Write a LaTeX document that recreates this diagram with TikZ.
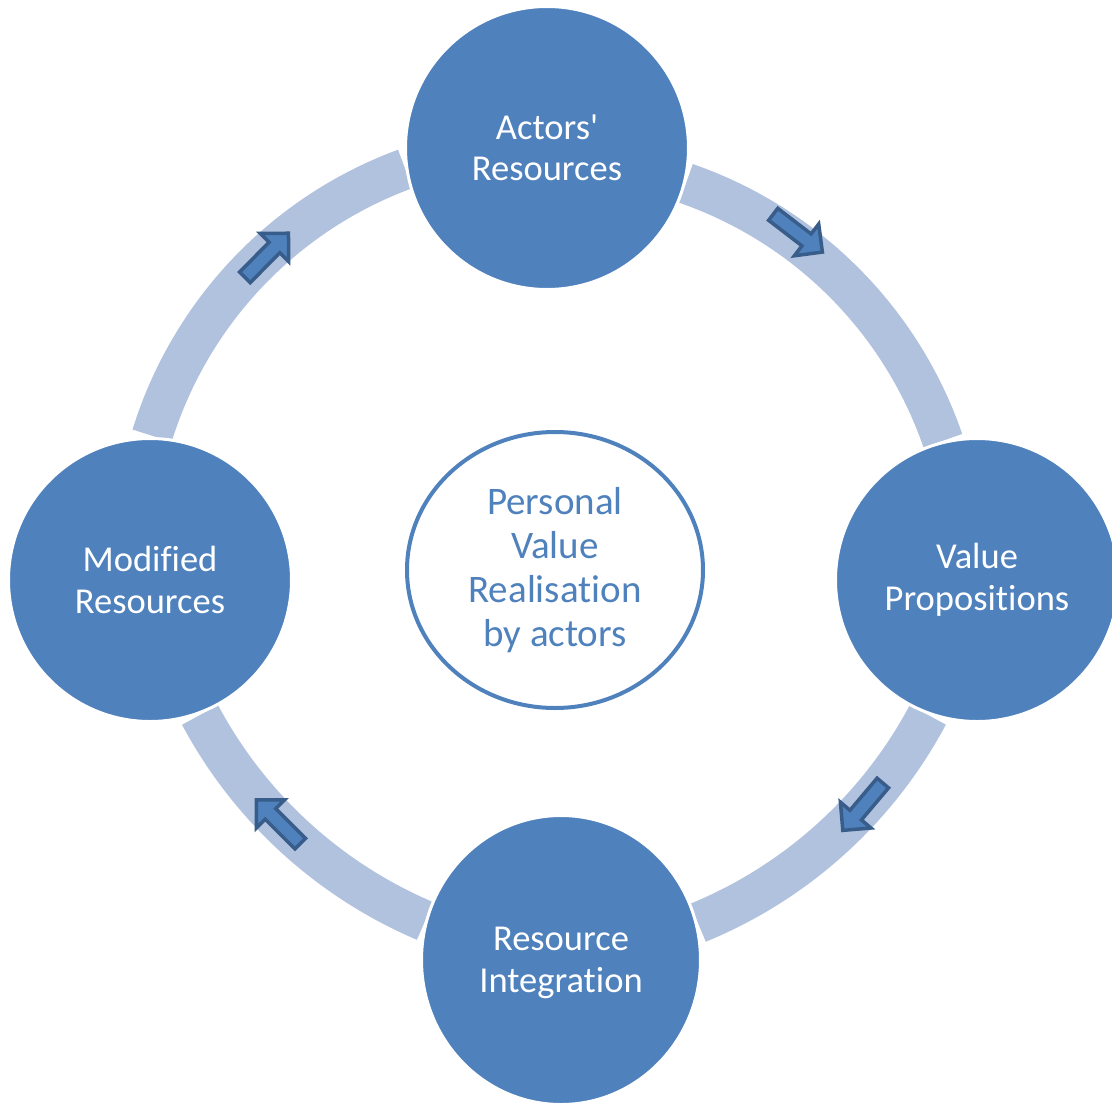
\documentclass[tikz,border=0pt]{standalone}
\usepackage{fontspec}
\setmainfont{Carlito}
\newfontfamily\labelfont{Carlito}[Ligatures={NoCommon,NoContextual}]
\usetikzlibrary{shapes.geometric}
\definecolor{accent}{HTML}{4F81BD}
\definecolor{bandblue}{HTML}{B1C2DE}
\definecolor{arrowline}{HTML}{385D8A}

\begin{document}
\begin{tikzpicture}[x=1pt,y=1pt,
  stage/.style={circle, fill=accent, draw=white, line width=3pt,
    minimum size=283pt, inner sep=0pt, text=white, align=center,
    font=\labelfont\fontsize{36.5}{41.5}\selectfont},
  hub/.style={ellipse, fill=white, draw=accent, line width=4pt,
    minimum width=296pt, minimum height=276pt, inner sep=0pt,
    text=accent, align=center, font=\labelfont\fontsize{39}{44}\selectfont},
  band/.style={draw=bandblue, line width=41pt, line cap=butt},
  flowarrow/.style={fill=accent, draw=arrowline, line width=3.5pt, line join=miter},
  flow/.pic={\draw[flowarrow] (-31,-7.5) -- (11,-7.5) -- (11,-20) -- (31,0)
    -- (11,20) -- (11,7.5) -- (-31,7.5) -- cycle;}
]
\useasboundingbox (0,0) rectangle (1112,-1103);

% centres of the four ring segments
\coordinate (tl-c) at (548.5,-558.4);
\coordinate (tr-c) at (550,-576);
\coordinate (br-c) at (524.5,-500);
\coordinate (bl-c) at (604.6,-499);

% segment start points
\path (tl-c) ++(110.2:415)  coordinate (tl-a);
\path (tr-c) ++(70.9:415.5) coordinate (tr-a);
\path (br-c) ++(-28.05:457) coordinate (br-a);
\path (bl-c) ++(208.1:458.6) coordinate (bl-a);

% ring segments between the stages
\draw[band] (tl-a) arc[start angle=110.2, end angle=162.8, radius=415pt];
\draw[band] (tr-a) arc[start angle=70.9, end angle=19.0, radius=415.5pt];
\draw[band] (br-a) arc[start angle=-28.05, end angle=-67.7, radius=457pt];
\draw[band] (bl-a) arc[start angle=208.1, end angle=246.95, radius=458.6pt];

% direction arrows on the ring
\pic[rotate=45.4]  at (266.7,-255.3) {flow};
\pic[rotate=-37.5] at (797.8,-233.2) {flow};
\pic[rotate=229.8] at (862.8,-806.7) {flow};
\pic[rotate=135]   at (278.3,-821.7) {flow};

% stages
\node[stage] (actors) at (547,-148) {Actors'\\Resources};
\node[stage] (propositions) at (977,-580) {Value\\Propositions};
\node[stage, ellipse, minimum width=279pt, minimum height=289pt, text depth=0pt]
  (integration) at (561,-960) {Resource\\Integration};
\node[stage] (modified) at (150,-580) {Modified\\Resources};

% centre
\node[hub] (realisation) at (555,-570) {Personal\\Value\\Realisation\\by actors};
\end{tikzpicture}
\end{document}
